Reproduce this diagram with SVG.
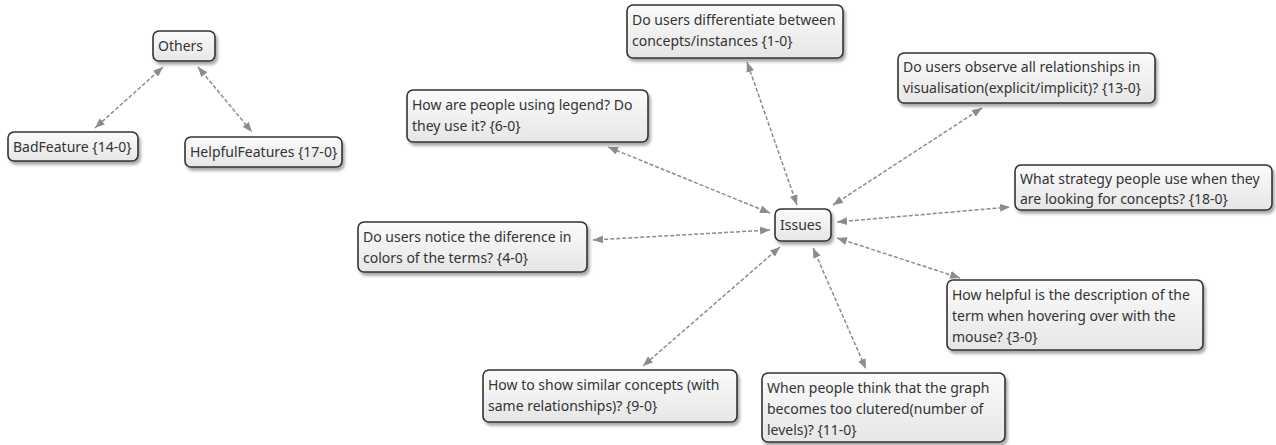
<svg xmlns="http://www.w3.org/2000/svg" width="1276" height="445" viewBox="0 0 1276 445">
<style>
.box{fill:url(#g);stroke:#333;stroke-width:1.6;filter:url(#sh)}
.t{font-family:"Noto Sans","DejaVu Sans",sans-serif;font-size:14px;fill:#333}
.c{fill:none;stroke:#8c8c8c;stroke-width:1.5;stroke-dasharray:4 2;marker-start:url(#a);marker-end:url(#a)}
</style>
<defs>
<linearGradient id="g" x1="0" y1="0" x2="0" y2="1"><stop offset="0" stop-color="#fbfbfb"/><stop offset="1" stop-color="#e6e6e6"/></linearGradient>
<filter id="sh" x="-10%" y="-20%" width="120%" height="150%"><feDropShadow dx="2" dy="3" stdDeviation="1.5" flood-color="#000" flood-opacity="0.35"/></filter>
<marker id="a" viewBox="0 0 10 8" refX="10" refY="4" markerWidth="10" markerHeight="8" markerUnits="userSpaceOnUse" orient="auto-start-reverse"><path d="M0,0 L10,4 L0,8 z" fill="#8c8c8c"/></marker>
</defs>
<g id="connectors">
<line class="c" x1="163" y1="67" x2="95" y2="128"/>
<line class="c" x1="198" y1="67" x2="252" y2="132"/>
<line class="c" x1="797" y1="205" x2="747" y2="62"/>
<line class="c" x1="770" y1="213" x2="608" y2="147"/>
<line class="c" x1="833" y1="205" x2="982" y2="108"/>
<line class="c" x1="837" y1="222" x2="1010" y2="207"/>
<line class="c" x1="770" y1="230" x2="593" y2="240"/>
<line class="c" x1="837" y1="238" x2="960" y2="278"/>
<line class="c" x1="780" y1="247" x2="643" y2="366"/>
<line class="c" x1="813" y1="248" x2="866" y2="369"/>
</g>
<g id="others"><rect class="box" x="153" y="31" width="62" height="30" rx="6"/><text class="t" x="158" y="51">Others</text></g>
<g id="badfeature"><rect class="box" x="8" y="132" width="130" height="29" rx="6"/><text class="t" x="13" y="152">BadFeature {14-0}</text></g>
<g id="helpfulfeatures"><rect class="box" x="185" y="137" width="157" height="30" rx="6"/><text class="t" x="190" y="157">HelpfulFeatures {17-0}</text></g>
<g id="issues"><rect class="box" x="775" y="209" width="56" height="32" rx="6"/><text class="t" x="780" y="230">Issues</text></g>
<g id="differentiate"><rect class="box" x="627" y="5" width="216" height="53" rx="6"/><text class="t" x="632" y="25">Do users differentiate between</text><text class="t" x="632" y="46">concepts/instances {1-0}</text></g>
<g id="legend"><rect class="box" x="407" y="90" width="241" height="52" rx="6"/><text class="t" x="412" y="110">How are people using legend? Do</text><text class="t" x="412" y="131">they use it? {6-0}</text></g>
<g id="observe"><rect class="box" x="898" y="53" width="257" height="50" rx="6"/><text class="t" x="903" y="72">Do users observe all relationships in</text><text class="t" x="903" y="93">visualisation(explicit/implicit)? {13-0}</text></g>
<g id="strategy"><rect class="box" x="1015" y="165" width="257" height="45" rx="6"/><text class="t" x="1020" y="184">What strategy people use when they</text><text class="t" x="1020" y="204">are looking for concepts? {18-0}</text></g>
<g id="diference"><rect class="box" x="358" y="222" width="229" height="50" rx="6"/><text class="t" x="363" y="242">Do users notice the diference in</text><text class="t" x="363" y="263">colors of the terms? {4-0}</text></g>
<g id="helpful"><rect class="box" x="947" y="280" width="256" height="70" rx="6"/><text class="t" x="952" y="300">How helpful is the description of the</text><text class="t" x="952" y="321">term when hovering over with the</text><text class="t" x="952" y="342">mouse? {3-0}</text></g>
<g id="similar"><rect class="box" x="483" y="370" width="254" height="52" rx="6"/><text class="t" x="488" y="390">How to show similar concepts (with</text><text class="t" x="488" y="411">same relationships)? {9-0}</text></g>
<g id="clutered"><rect class="box" x="762" y="373" width="243" height="69" rx="6"/><text class="t" x="767" y="393">When people think that the graph</text><text class="t" x="767" y="414">becomes too clutered(number of</text><text class="t" x="767" y="435">levels)? {11-0}</text></g>
</svg>
